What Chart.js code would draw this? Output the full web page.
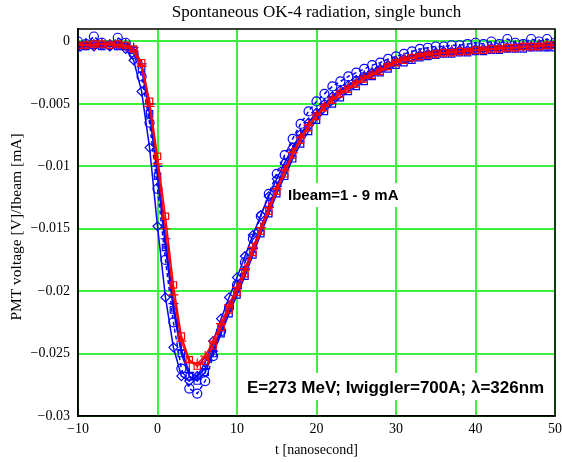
<!DOCTYPE html>
<html>
<head>
<meta charset="utf-8">
<script src="https://cdn.jsdelivr.net/npm/chart.js@4"></script>
<style>
  html, body { margin: 0; padding: 0; background: #fff; }
  #wrap { width: 562px; height: 462px; }
</style>
</head>
<body>
<div id="wrap"><canvas id="c" width="562" height="462"></canvas></div>
<script>
// time axis, ns
const T = [-10,-9,-8,-7,-6,-5,-4,-3,-2,-1,0,1,2,3,4,5,6,7,8,9,10,11,12,13,14,15,16,17,18,19,20,
           21,22,23,24,25,26,27,28,29,30,31,32,33,34,35,36,37,38,39,40,41,42,43,44,45,46,47,48,49,50];

// red squares (average trace)
const redSquares = [-0.0003,-0.0003,-0.0002,-0.0002,-0.0003,-0.0002,-0.0003,-0.0006,-0.0017,-0.0048,
  -0.0092,-0.0140,-0.0195,-0.0236,-0.0255,-0.0260,-0.0256,-0.0244,-0.0229,-0.0215,
  -0.0201,-0.0186,-0.0169,-0.0152,-0.0136,-0.0120,-0.0106,-0.0091,-0.0079,-0.0069,
  -0.0060,-0.0053,-0.0047,-0.0042,-0.0038,-0.0034,-0.0030,-0.0027,-0.0024,-0.0020,
  -0.0017,-0.0015,-0.0013,-0.0012,-0.0011,-0.0010,-0.0009,-0.0009,-0.0008,-0.0008,
  -0.0007,-0.0007,-0.0006,-0.0006,-0.0005,-0.0005,-0.0004,-0.0004,-0.0004,-0.0003,-0.0003];

// red crosses
const redPlus = [-0.0002,-0.0003,-0.0003,-0.0002,-0.0002,-0.0003,-0.0004,-0.0008,-0.0020,-0.0052,
  -0.0098,-0.0150,-0.0203,-0.0240,-0.0257,-0.0258,-0.0252,-0.0240,-0.0226,-0.0211,
  -0.0197,-0.0182,-0.0165,-0.0149,-0.0133,-0.0118,-0.0103,-0.0089,-0.0077,-0.0067,
  -0.0059,-0.0052,-0.0046,-0.0041,-0.0037,-0.0033,-0.0029,-0.0026,-0.0023,-0.0019,
  -0.0016,-0.0014,-0.0013,-0.0011,-0.0010,-0.0010,-0.0009,-0.0008,-0.0008,-0.0007,
  -0.0007,-0.0006,-0.0006,-0.0005,-0.0005,-0.0005,-0.0004,-0.0004,-0.0003,-0.0003,-0.0003];

// blue circles, dashed
const blueCircles = [0.0000,-0.0002,0.0004,-0.0001,-0.0003,0.0003,-0.0001,-0.0010,-0.0028,-0.0065,
  -0.0118,-0.0175,-0.0225,-0.0262,-0.0278,-0.0282,-0.0272,-0.0252,-0.0232,-0.0213,
  -0.0195,-0.0177,-0.0158,-0.0140,-0.0122,-0.0106,-0.0091,-0.0078,-0.0066,-0.0056,
  -0.0048,-0.0042,-0.0036,-0.0032,-0.0028,-0.0025,-0.0022,-0.0019,-0.0017,-0.0014,
  -0.0012,-0.0010,-0.0008,-0.0006,-0.0005,-0.0004,-0.0004,-0.0003,-0.0003,-0.0002,
  -0.0001,-0.0002,0.0000,-0.0002,0.0002,-0.0001,-0.0002,0.0002,0.0000,0.0002,-0.0001];

// blue diamonds
const blueDiamonds = [-0.0004,-0.0003,-0.0004,-0.0003,-0.0004,-0.0003,-0.0006,-0.0015,-0.0040,-0.0085,
  -0.0148,-0.0205,-0.0245,-0.0268,-0.0272,-0.0268,-0.0257,-0.0240,-0.0222,-0.0205,
  -0.0189,-0.0172,-0.0155,-0.0139,-0.0124,-0.0110,-0.0097,-0.0085,-0.0074,-0.0065,
  -0.0057,-0.0050,-0.0044,-0.0039,-0.0035,-0.0031,-0.0028,-0.0025,-0.0022,-0.0019,
  -0.0016,-0.0014,-0.0013,-0.0011,-0.0010,-0.0009,-0.0008,-0.0008,-0.0007,-0.0007,
  -0.0006,-0.0006,-0.0005,-0.0005,-0.0005,-0.0004,-0.0004,-0.0004,-0.0003,-0.0004,-0.0003];

// blue squares
const blueSquares = [-0.0005,-0.0004,-0.0003,-0.0004,-0.0003,-0.0004,-0.0004,-0.0007,-0.0022,-0.0058,
  -0.0108,-0.0165,-0.0215,-0.0250,-0.0268,-0.0272,-0.0265,-0.0250,-0.0234,-0.0218,
  -0.0203,-0.0188,-0.0171,-0.0154,-0.0138,-0.0122,-0.0108,-0.0094,-0.0082,-0.0072,
  -0.0063,-0.0056,-0.0050,-0.0045,-0.0040,-0.0036,-0.0032,-0.0028,-0.0025,-0.0022,
  -0.0019,-0.0017,-0.0015,-0.0013,-0.0012,-0.0011,-0.0010,-0.0010,-0.0009,-0.0009,
  -0.0008,-0.0008,-0.0007,-0.0007,-0.0006,-0.0006,-0.0006,-0.0005,-0.0005,-0.0005,-0.0005];

// blue crosses
const bluePlus = [-0.0002,-0.0001,-0.0002,-0.0001,-0.0002,-0.0001,-0.0002,-0.0005,-0.0018,-0.0050,
  -0.0100,-0.0158,-0.0210,-0.0247,-0.0265,-0.0268,-0.0262,-0.0248,-0.0231,-0.0214,
  -0.0198,-0.0183,-0.0166,-0.0149,-0.0132,-0.0116,-0.0101,-0.0087,-0.0075,-0.0065,
  -0.0057,-0.0050,-0.0044,-0.0039,-0.0035,-0.0031,-0.0027,-0.0024,-0.0021,-0.0018,
  -0.0015,-0.0013,-0.0011,-0.0010,-0.0009,-0.0008,-0.0007,-0.0007,-0.0006,-0.0006,
  -0.0005,-0.0005,-0.0004,-0.0004,-0.0004,-0.0003,-0.0003,-0.0003,-0.0002,-0.0002,-0.0002];

const xTicks = [-10, 0, 10, 20, 30, 40, 50];
const yTicks = [0, -0.005, -0.01, -0.015, -0.02, -0.025, -0.03];

const titleText = 'Spontaneous OK-4 radiation, single bunch';
const xTitle = 't [nanosecond]';
const yTitle = 'PMT voltage [V]/Ibeam [mA]';
const noteBeam = 'Ibeam=1 - 9 mA';
const noteRun = 'E=273 MeV; Iwiggler=700A; \u03BB=326nm';

const BLUE = '#0000ff';
const RED = '#ff0000';
const GRID = '#3cf03c';
const serif = '"Liberation Serif", "Times New Roman", serif';
const sans = '"Liberation Sans", Arial, sans-serif';

const pts = arr => arr.map((v, i) => ({x: T[i], y: v}));
// proper minus sign like the original
const fmt = v => {
    if (Math.abs(v) < 1e-9) return '0';
    const s = parseFloat(Math.abs(v).toFixed(4)).toString();
    return v < 0 ? '\u2212' + s : s;
};

const mkSet = (label, arr, color, style, radius, extra) => Object.assign({
    label: label,
    data: pts(arr),
    borderColor: color,
    backgroundColor: 'rgba(0,0,0,0)',
    borderWidth: 1.5,
    pointStyle: style,
    pointRadius: radius,
    pointBorderColor: color,
    pointBorderWidth: 1.2,
    pointBackgroundColor: 'rgba(0,0,0,0)',
    tension: 0
}, extra || {});

const frameAndText = {
    id: 'frameAndText',
    beforeDatasetsDraw(chart) {
        // white boxes behind the notes hide the grid
        const ctx = chart.ctx;
        ctx.save();
        ctx.fillStyle = '#fff';
        ctx.fillRect(285, 183, 116, 24);
        ctx.fillRect(244, 373, 304, 27);
        ctx.restore();
    },
    afterDatasetsDraw(chart) {
        const {ctx, chartArea: a} = chart;
        ctx.save();
        ctx.strokeStyle = '#000';
        ctx.lineWidth = 1.5;
        ctx.strokeRect(a.left, a.top, a.right - a.left, a.bottom - a.top);

        ctx.fillStyle = '#000';
        ctx.textAlign = 'center';
        ctx.textBaseline = 'middle';
        ctx.font = '17px ' + serif;
        ctx.fillText(titleText, (a.left + a.right) / 2, 13);
        ctx.font = '14px ' + serif;
        ctx.fillText(xTitle, (a.left + a.right) / 2, 450);
        ctx.save();
        ctx.translate(17, 227);
        ctx.rotate(-Math.PI / 2);
        ctx.font = '15.5px ' + serif;
        ctx.fillText(yTitle, 0, 0);
        ctx.restore();

        ctx.textAlign = 'left';
        ctx.font = 'bold 15px ' + sans;
        ctx.fillText(noteBeam, 288, 196);
        ctx.font = 'bold 17px ' + sans;
        ctx.fillText(noteRun, 247, 388);
        ctx.restore();
    }
};

new Chart(document.getElementById('c'), {
    type: 'line',
    data: {
        datasets: [
            mkSet('red +', redPlus, RED, 'cross', 5),
            mkSet('red squares', redSquares, RED, 'rect', 4.5),
            mkSet('blue +', bluePlus, BLUE, 'cross', 5),
            mkSet('blue squares', blueSquares, BLUE, 'rect', 4.5),
            mkSet('blue diamonds', blueDiamonds, BLUE, 'rectRot', 4.5),
            mkSet('blue circles', blueCircles, BLUE, 'circle', 4.5, {borderDash: [4, 3]})
        ]
    },
    options: {
        responsive: false,
        animation: false,
        layout: {padding: {top: 29, right: 7, left: 0, bottom: 0}},
        plugins: {
            legend: {display: false},
            tooltip: {enabled: false},
            title: {display: false}
        },
        scales: {
            x: {
                type: 'linear',
                min: -10, max: 50,
                afterBuildTicks: s => { s.ticks = xTicks.map(v => ({value: v})); },
                afterFit: s => { s.height = 46; s.paddingLeft = 0; s.paddingRight = 0; },
                grid: {color: GRID, lineWidth: 2, drawTicks: false},
                border: {color: '#000', width: 1.5},
                ticks: {color: '#000', padding: 5, font: {family: serif, size: 14}, callback: v => fmt(v)}
            },
            y: {
                type: 'linear',
                min: -0.03, max: 0.001,
                afterBuildTicks: s => { s.ticks = yTicks.map(v => ({value: v})); },
                afterFit: s => { s.width = 78; },
                grid: {color: GRID, lineWidth: 2, drawTicks: false},
                border: {color: '#000', width: 1.5},
                ticks: {color: '#000', padding: 8, font: {family: serif, size: 14}, callback: v => fmt(v)}
            }
        }
    },
    plugins: [frameAndText]
});
</script>
</body>
</html>
